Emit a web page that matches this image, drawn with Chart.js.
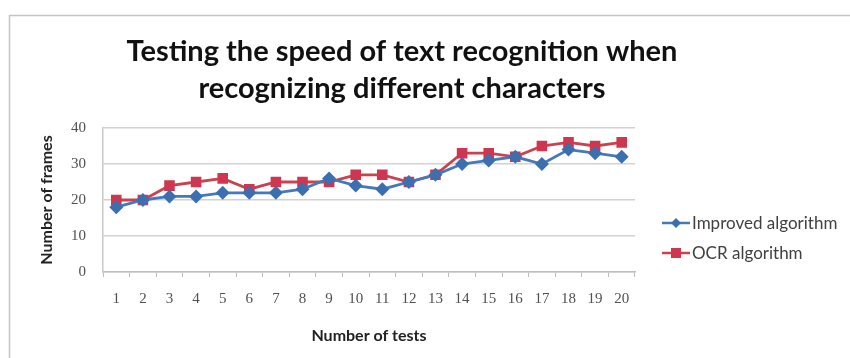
<!DOCTYPE html>
<html>
<head>
<meta charset="utf-8">
<script src="https://cdn.jsdelivr.net/npm/chart.js@4.4.1/dist/chart.umd.min.js"></script>
<style>
  html, body { margin: 0; padding: 0; background: #ffffff; }
  #wrap { width: 850px; height: 358px; position: relative; }
</style>
</head>
<body>
<div id="wrap"><canvas id="chart" width="850" height="358"></canvas></div>
<script>
// Chart text and data
const titleLines = ['Testing the speed of text recognition when', 'recognizing different characters'];
const testNumbers = ['1','2','3','4','5','6','7','8','9','10','11','12','13','14','15','16','17','18','19','20'];
const improvedFrames = [18, 20, 21, 21, 22, 22, 22, 23, 26, 24, 23, 25, 27, 30, 31, 32, 30, 34, 33, 32];
const ocrFrames      = [20, 20, 24, 25, 26, 23, 25, 25, 25, 27, 27, 25, 27, 33, 33, 32, 35, 36, 35, 36];
const seriesNames = ['Improved algorithm', 'OCR algorithm'];
const yTickValues = [0, 10, 20, 30, 40];
const xAxisTitle = 'Number of tests';
const yAxisTitle = 'Number of frames';

const BLUE_LINE = '#4679b9';
const BLUE_MARK = '#3c6fb0';
const RED_LINE = '#c9434f';
const RED_MARK = '#cf3650';

// Outer frame and two-line heading
const framePlugin = {
  id: 'frame',
  beforeDraw(chart) {
    const ctx = chart.ctx;
    ctx.save();
    ctx.fillStyle = '#ffffff';
    ctx.fillRect(0, 0, chart.width, chart.height);
    ctx.strokeStyle = '#c4c4c4';
    ctx.lineWidth = 1.5;
    ctx.beginPath();
    ctx.moveTo(9.5, chart.height);
    ctx.lineTo(9.5, 15.5);
    ctx.lineTo(chart.width, 15.5);
    ctx.stroke();
    ctx.restore();
  },
  afterDraw(chart) {
    const ctx = chart.ctx;
    ctx.save();
    ctx.fillStyle = '#111111';
    ctx.font = 'bold 29px Lato';
    ctx.textAlign = 'center';
    ctx.textBaseline = 'alphabetic';
    ctx.fillText(titleLines[0], 402, 61);
    ctx.fillText(titleLines[1], 402, 98);
    ctx.restore();
  }
};

// Legend on the right: a short line with the series marker, then the name
const sideLegendPlugin = {
  id: 'sideLegend',
  afterDraw(chart) {
    const ctx = chart.ctx;
    const rows = [223, 253];
    ctx.save();
    chart.data.datasets.forEach((ds, i) => {
      const y = rows[i];
      ctx.strokeStyle = ds.borderColor;
      ctx.lineWidth = 2.5;
      ctx.beginPath();
      ctx.moveTo(662, y);
      ctx.lineTo(690, y);
      ctx.stroke();
      ctx.fillStyle = ds.pointBackgroundColor;
      ctx.beginPath();
      if (ds.pointStyle === 'rect') {
        ctx.rect(676 - 5, y - 5, 10, 10);
      } else {
        ctx.moveTo(676, y - 5);
        ctx.lineTo(681, y);
        ctx.lineTo(676, y + 5);
        ctx.lineTo(671, y);
        ctx.closePath();
      }
      ctx.fill();
      ctx.fillStyle = '#404040';
      ctx.font = '17px Lato';
      ctx.textAlign = 'left';
      ctx.textBaseline = 'middle';
      ctx.fillText(ds.label, 692, y + 1);
    });
    ctx.restore();
  }
};

new Chart(document.getElementById('chart'), {
  type: 'line',
  data: {
    labels: testNumbers,
    datasets: [
      {
        label: seriesNames[0],
        data: improvedFrames,
        borderColor: BLUE_LINE,
        backgroundColor: BLUE_MARK,
        pointBackgroundColor: BLUE_MARK,
        pointBorderColor: BLUE_MARK,
        pointStyle: 'rectRot',
        pointRadius: 5,
        borderWidth: 2.8,
        tension: 0
      },
      {
        label: seriesNames[1],
        data: ocrFrames,
        borderColor: RED_LINE,
        backgroundColor: RED_MARK,
        pointBackgroundColor: RED_MARK,
        pointBorderColor: RED_MARK,
        pointStyle: 'rect',
        pointRadius: 5.5,
        borderWidth: 2.8,
        tension: 0
      }
    ]
  },
  options: {
    responsive: false,
    animation: false,
    layout: { padding: { left: 30, right: 215, top: 128, bottom: 10 } },
    plugins: {
      legend: { display: false },
      title: { display: false },
      tooltip: { enabled: false }
    },
    scales: {
      x: {
        type: 'category',
        offset: true,
        grid: {
          offset: true,
          drawOnChartArea: false,
          drawTicks: true,
          tickLength: 5,
          color: '#bdbdbd'
        },
        border: { color: '#bdbdbd', width: 1.5 },
        ticks: {
          autoSkip: false,
          maxRotation: 0,
          padding: 13,
          color: '#505050',
          font: { family: 'Liberation Serif', size: 15 }
        },
        title: {
          display: true,
          text: xAxisTitle,
          color: '#222222',
          font: { family: 'Lato', size: 16, weight: 'bold' },
          padding: { top: 4, bottom: 3 }
        },
        afterFit(scale) { scale.height = 76; }
      },
      y: {
        min: 0,
        max: 40,
        afterBuildTicks(scale) { scale.ticks = yTickValues.map(v => ({ value: v })); },
        grid: { color: '#d2d2d2', lineWidth: 1.5, drawTicks: false },
        border: { color: '#c8c8c8', width: 1.5 },
        ticks: {
          padding: 17,
          color: '#505050',
          font: { family: 'Liberation Serif', size: 15 }
        },
        title: {
          display: true,
          text: yAxisTitle,
          color: '#222222',
          font: { family: 'Lato', size: 16, weight: 'bold' },
          padding: { top: 7, bottom: 4 }
        },
        afterFit(scale) { scale.width = 73; }
      }
    }
  },
  plugins: [framePlugin, sideLegendPlugin]
});
</script>
</body>
</html>
